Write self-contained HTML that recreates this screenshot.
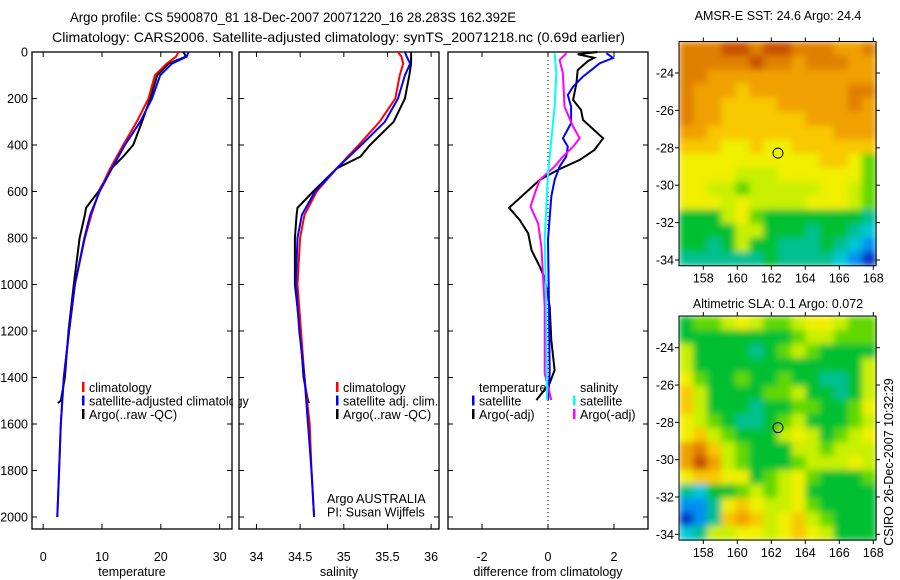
<!DOCTYPE html>
<html><head><meta charset="utf-8"><style>
body{margin:0;background:#fff}
svg{display:block;font-family:"Liberation Sans",sans-serif}
</style></head><body>
<svg id="c" width="900" height="580" viewBox="0 0 900 580" xmlns="http://www.w3.org/2000/svg">
<defs>
<filter id="bl" filterUnits="objectBoundingBox" x="0" y="0" width="1" height="1"><feGaussianBlur stdDeviation="3.5" edgeMode="duplicate"/></filter>
</defs>
<text x="70" y="22" font-size="14" textLength="446" lengthAdjust="spacingAndGlyphs">Argo profile: CS 5900870_81 18-Dec-2007 20071220_16 28.283S 162.392E</text>
<text x="52" y="42" font-size="14" textLength="573" lengthAdjust="spacingAndGlyphs">Climatology: CARS2006. Satellite-adjusted climatology: synTS_20071218.nc (0.69d earlier)</text>
<text x="778" y="20" font-size="12.5" text-anchor="middle">AMSR-E SST: 24.6  Argo: 24.4</text>
<text x="778" y="308" font-size="12.5" text-anchor="middle">Altimetric SLA: 0.1  Argo: 0.072</text>
<text transform="translate(893,462) rotate(-90)" font-size="12.5" text-anchor="middle">CSIRO 26-Dec-2007 10:32:29</text>
<g id="g"></g>
</svg>
<script>
// ---- data ----
const tDepth=[0,20,50,100,200,300,400,500,600,700,800,1000,1200,1400,1600,1800,2000];
const tClim=[23,22.6,21,19,17.9,15.9,13.6,11.4,9.5,8.2,7.1,5.4,4.4,3.5,3.0,2.7,2.4];
const tSat=[24.7,24.4,21.9,19.9,18.5,16.5,13.9,11.7,9.6,8.0,7.0,5.4,4.4,3.5,3.0,2.7,2.4];
const aDepth=[0,20,50,100,200,300,400,450,500,600,670,700,800,1000,1200,1400,1500,1510];
const tArgo=[23.8,24.3,21.3,19.4,18.2,16.8,15.3,13.6,11.6,9.4,7.3,7.1,6.2,5.2,4.3,3.7,3.0,2.5];
const sClim=[35.62,35.66,35.68,35.64,35.59,35.41,35.17,34.92,34.69,34.55,34.50,34.47,34.51,34.55,34.61,34.63,34.66];
const sSat=[35.70,35.72,35.76,35.70,35.62,35.47,35.20,34.92,34.67,34.52,34.47,34.45,34.49,34.55,34.59,34.63,34.66];
const sArgo=[35.77,35.77,35.77,35.75,35.70,35.57,35.30,35.19,34.92,34.65,34.47,34.46,34.44,34.44,34.50,34.54,34.59,34.60];
const dtDepth=[0,10,25,40,78,135,206,249,292,371,421,464,507,550,608,670,722,780,852,923,973,1095,1239,1368,1425,1497];
const dtArgo=[1.5,0.9,1.4,1.2,0.9,0.86,0.76,1.0,1.06,1.67,1.41,0.96,0.3,-0.25,-0.7,-1.18,-0.86,-0.6,-0.5,-0.25,-0.1,0.05,0.1,0.2,0.05,-0.35];
const dsDepth=[5,26,48,106,149,185,235,306,371,407,450,493,550,622,808,1095,1382,1497];
const dtSat=[1.77,1.97,1.57,1.06,0.76,0.6,0.7,0.7,0.45,0.6,0.55,0.35,0.2,0.1,0,0.03,0.05,0];
const dcDepth=[5,92,235,378,522,808,1095,1497];
const dsSat=[0.2,0.25,0.2,0.1,0,-0.1,-0.05,-0.03];
const dmDepth=[5,35,92,235,321,371,407,450,493,550,608,665,737,837,1095,1382,1497];
const dsArgo=[0.56,0.35,0.45,0.5,0.76,0.96,0.76,0.45,0.2,-0.25,-0.4,-0.53,-0.3,-0.2,-0.1,-0.1,0.1];
const sstGrid=["aaabbabbaaa99a","aaaaabaa9aaa99","aa999999999999","a99989999999aa","a99888899999a9","a998888889999","99888888888999","88877877888888","7777777777887 5","77776667777775","77665666667765","77767666677765","44467544444443","44446644434432","44346443334321","33333343333210"];
const slaGrid=["45567655677655","44444444566555","64444345654444","64444444444446","75445445443346","86444455644346","86444344554457","76543345644456","78654446764567","9a865444665666","9b965444566676","78877456754445","32445656744444","11378766754444","01389867865444","23667767876444"];
const yTicks=[0,200,400,600,800,1000,1200,1400,1600,1800,2000];
// ---- helpers ----
const g=document.getElementById('g'),NS="http://www.w3.org/2000/svg";
function el(t,a,p){const e=document.createElementNS(NS,t);for(const k in a)e.setAttribute(k,a[k]);(p||g).appendChild(e);return e;}
const Y=d=>52+d*0.2325;
function panel(name,x0,x1,dmin,dmax,ticks,label){
  const X=v=>x0+(v-dmin)/(dmax-dmin)*(x1-x0);
  const r=el('rect',{x:x0,y:52,width:x1-x0,height:477,fill:'none',stroke:'#000','stroke-width':1.3});
  
  
  ticks.forEach(t=>{const x=X(t);
    el('line',{x1:x,x2:x,y1:52,y2:57,stroke:'#000'});el('line',{x1:x,x2:x,y1:529,y2:524,stroke:'#000'});
    const tx=el('text',{x:x,y:561,'font-size':12.5,'text-anchor':'middle'});tx.textContent=t;
    
    });
  yTicks.forEach(t=>{const y=Y(t);
    el('line',{x1:x0,x2:x0+5,y1:y,y2:y,stroke:'#000'});el('line',{x1:x1,x2:x1-5,y1:y,y2:y,stroke:'#000'});});
  const lb=el('text',{x:(x0+x1)/2,y:576,'font-size':12.5,'text-anchor':'middle'});lb.textContent=label;
  
  
  return X;
}
function line(X,vals,depths,col,name,w){
  const p=el('polyline',{points:vals.map((v,i)=>X(v).toFixed(1)+','+Y(depths[i]).toFixed(1)).join(' '),fill:'none',stroke:col,'stroke-width':w||2});
  
  
}
function legend(x,y,items,name){
  items.forEach((it,i)=>{
    if(it[0])el('rect',{x:x,y:y+i*13.5-10,width:2.5,height:10,fill:it[0]});
    const t=el('text',{x:x+7,y:y+i*13.5,'font-size':12.5});t.textContent=it[1];
    
    });
}
yTicks.forEach(t=>{const tx=el('text',{x:28,y:Y(t)+4.5,'font-size':12.5,'text-anchor':'end'});tx.textContent=t;
  
  });
const XT=panel('temperature-panel',32,232,-1.9,32.1,[0,10,20,30],'temperature');
line(XT,tArgo,aDepth,'#000','temp-argo-line');
line(XT,tClim,tDepth,'#f00','temp-climatology-line');
line(XT,tSat,tDepth,'#00f','temp-satellite-line');
legend(82,392,[['#f00','climatology'],['#00f','satellite-adjusted climatology'],['#000','Argo(..raw -QC)']],'temp-legend');
el('rect',{x:233,y:52,width:6,height:477,fill:'#fff'});
const XS=panel('salinity-panel',239,439,33.8,36.09,[34,34.5,35,35.5,36],'salinity');
line(XS,sArgo,aDepth,'#000','sal-argo-line');
line(XS,sClim,tDepth,'#f00','sal-climatology-line');
line(XS,sSat,tDepth,'#00f','sal-satellite-line');
legend(336,392,[['#f00','climatology'],['#00f','satellite adj. clim.'],['#000','Argo(..raw -QC)']],'sal-legend');
legend(320,503,[[null,'Argo AUSTRALIA'],[null,'PI: Susan Wijffels']],'credit');
el('rect',{x:440,y:52,width:8,height:477,fill:'#fff'});
const XD=panel('difference-panel',448,648,-3.03,3.03,[-2,0,2],'difference from climatology');
el('line',{x1:XD(0),x2:XD(0),y1:52,y2:529,stroke:'#000','stroke-dasharray':'1,3'});
line(XD,dtArgo,dtDepth,'#000','diff-temp-argo-line');
line(XD,dtSat,dsDepth,'#00f','diff-temp-satellite-line');
line(XD,dsArgo,dmDepth,'#f0f','diff-sal-argo-line');
line(XD,dsSat,dcDepth,'#0ff','diff-sal-satellite-line');
legend(472,392,[[null,' temperature'],['#00f','satellite'],['#000','Argo(-adj)']],'diff-temp-legend');
legend(573,392,[[null,' salinity'],['#0ff','satellite'],['#f0f','Argo(-adj)']],'diff-sal-legend');
const pal={'0':'#0038c8','1':'#0090f0','2':'#00c8d8','3':'#00c090','4':'#00c030','5':'#60d800','6':'#c8f000','7':'#f0f000','8':'#f8c800','9':'#f0a000','a':'#e08000','b':'#c85000',' ':'#60d800'};
function map(name,top,bot,lat24,lat34,grid){
  const x0=679,x1=876,LX=v=>703.3+(v-158)*17,LY=v=>lat24+(v+24)/(-10)*(lat34-lat24);
  const rows=grid.length,cw=(x1-x0)/14,ch=(bot-top)/rows;
  const mg=el('g',{filter:'url(#bl)'});
  
  
  grid.forEach((r,i)=>{for(let j=0;j<14;j++){const c=r[j]||r[r.length-1];
    el('rect',{x:(x0+j*cw).toFixed(2),y:(top+i*ch).toFixed(2),width:(cw+0.6).toFixed(2),height:(ch+0.6).toFixed(2),fill:pal[c]||'#60d800'},mg);}});
  const fr=el('rect',{x:x0,y:top,width:x1-x0,height:bot-top,fill:'none',stroke:'#000'});
  
  
  [158,160,162,164,166,168].forEach(v=>{const x=LX(v);
    el('line',{x1:x,x2:x,y1:bot,y2:bot+4,stroke:'#000'});el('line',{x1:x,x2:x,y1:top,y2:top-4,stroke:'#000'});
    const t=el('text',{x:x,y:bot+17,'font-size':12.5,'text-anchor':'middle'});t.textContent=v;
    
    });
  [-24,-26,-28,-30,-32,-34].forEach(v=>{const y=LY(v);
    el('line',{x1:x0,x2:x0-4,y1:y,y2:y,stroke:'#000'});el('line',{x1:x1,x2:x1+4,y1:y,y2:y,stroke:'#000'});
    const t=el('text',{x:674,y:y+4.5,'font-size':12.5,'text-anchor':'end'});t.textContent=v;
    
    });
  const c=el('circle',{cx:LX(162.392),cy:LY(-28.283),r:5,fill:'none',stroke:'#000'});
  
  
}
map('sst-map',41.5,265.7,73,260,sstGrid);
map('sla-map',316,540,347.7,534.3,slaGrid);
</script>
</body></html>
